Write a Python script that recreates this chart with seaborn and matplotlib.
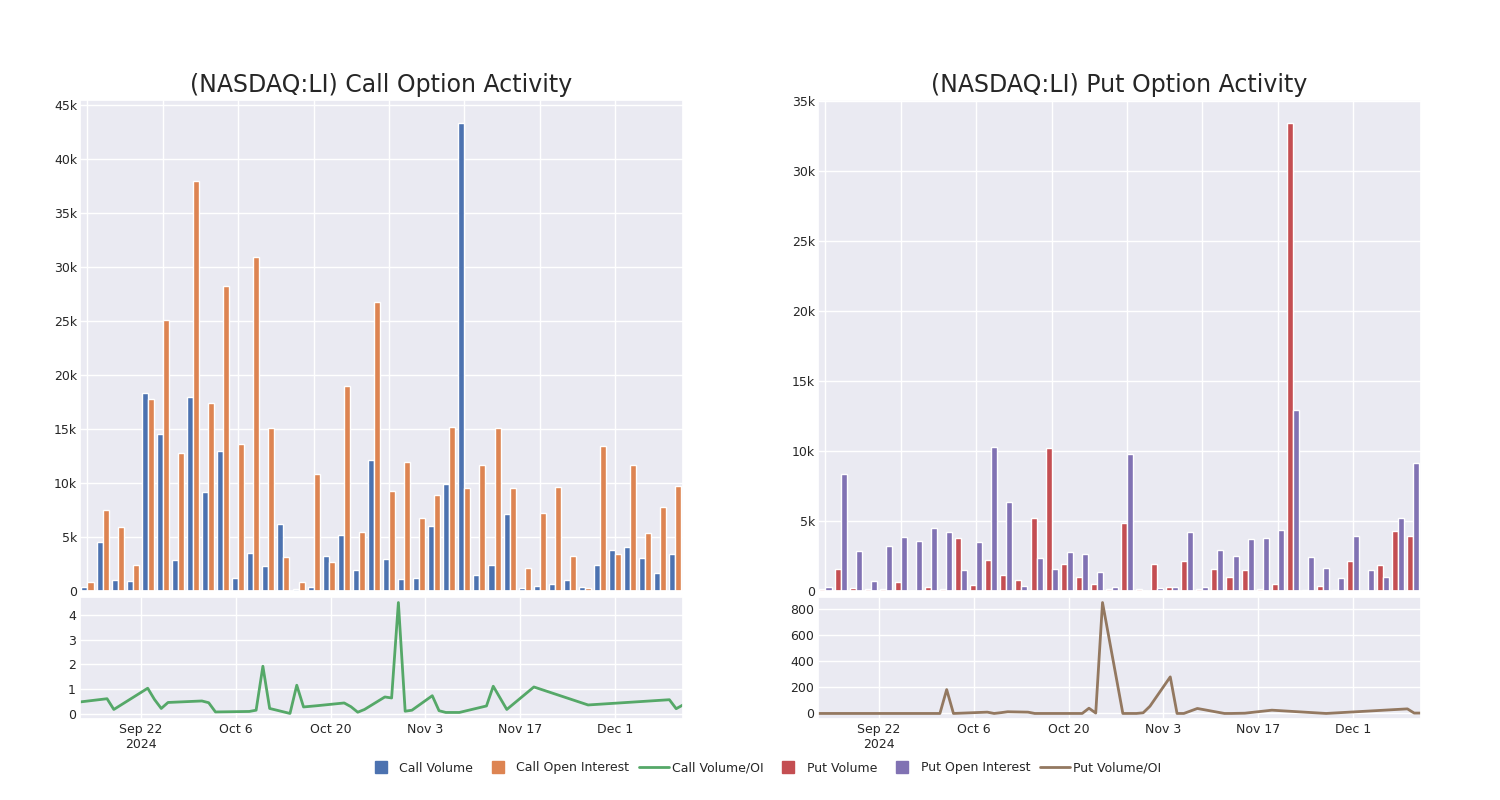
import matplotlib.pyplot as plt
import matplotlib.ticker as mticker
from matplotlib.lines import Line2D
import pandas as pd
import seaborn as sns

dates = pd.to_datetime([
    "2024-09-13", "2024-09-17", "2024-09-18", "2024-09-19", "2024-09-23",
    "2024-09-24", "2024-09-25", "2024-09-26", "2024-10-01", "2024-10-02",
    "2024-10-03", "2024-10-08", "2024-10-09", "2024-10-10", "2024-10-11",
    "2024-10-14", "2024-10-15", "2024-10-16", "2024-10-18", "2024-10-22",
    "2024-10-23", "2024-10-24", "2024-10-25", "2024-10-28", "2024-10-29",
    "2024-10-30", "2024-10-31", "2024-11-01", "2024-11-04", "2024-11-05",
    "2024-11-06", "2024-11-08", "2024-11-12", "2024-11-13", "2024-11-15",
    "2024-11-19", "2024-11-27", "2024-12-09", "2024-12-10", "2024-12-11",
])

call_volume = [370, 4550, 1050, 900, 18300, 14500, 2900, 18000, 9200, 13000,
               1200, 3560, 2320, 6200, 190, 370, 3200, 5140, 1950, 12100,
               2970, 1080, 1180, 6000, 9900, 43300, 1490, 2410, 7090, 280,
               500, 650, 1050, 370, 2450, 3780, 4120, 3070, 1640, 3470]
call_oi = [800, 7460, 5880, 2450, 17800, 25100, 12750, 38000, 17400, 28200,
           13650, 30900, 15050, 3160, 840, 10800, 2700, 18950, 5500, 26800,
           9260, 11950, 6800, 8850, 15200, 9570, 11640, 15050, 9570, 2170,
           7240, 9600, 3280, 310, 13400, 3470, 11640, 5390, 7800, 9690]
call_ratio = [0.50, 0.63, 0.20, 0.37, 1.05, 0.60, 0.24, 0.48, 0.54, 0.47,
              0.10, 0.12, 0.17, 1.93, 0.24, 0.04, 1.17, 0.30, 0.35, 0.46,
              0.31, 0.09, 0.20, 0.70, 0.66, 4.48, 0.13, 0.17, 0.75, 0.15,
              0.08, 0.08, 0.34, 1.13, 0.20, 1.10, 0.38, 0.59, 0.23, 0.38]

put_volume = [140, 1600, 240, 140, 140, 670, 0, 290, 140, 3800,
              400, 2240, 1150, 790, 5200, 10170, 1960, 1000, 500, 120,
              4870, 120, 1900, 260, 2170, 170, 1600, 980, 1530, 170,
              530, 33370, 70, 330, 100, 2120, 0, 1860, 4270, 3910]
put_oi = [290, 8380, 2890, 720, 3200, 3870, 3600, 4510, 4220, 1530,
          3480, 10290, 6350, 360, 2390, 1550, 2770, 2650, 1360, 290,
          9760, 0, 210, 260, 4180, 260, 2960, 2500, 3720, 3750,
          4320, 12940, 2460, 1620, 950, 3910, 1500, 1000, 5230, 9120]
put_ratio = [0, 0, 0, 0, 0, 0, 0, 0, 0, 182,
             0, 10, 0, 6, 13, 10, 0, 0, 0, 0,
             40, 3, 846, 0, 0, 0, 5, 55, 279, 0,
             0, 38, 0, 0, 2, 25, 0, 35, 3, 3]

tick_dates = pd.to_datetime(["2024-09-22", "2024-10-06", "2024-10-20",
                             "2024-11-03", "2024-11-17", "2024-12-01"])
tick_labels = ["Sep 22\n2024", "Oct 6", "Oct 20", "Nov 3", "Nov 17", "Dec 1"]

sns.set_theme(style="darkgrid")
pal = sns.color_palette("deep")


def k_fmt(v, _):
    return "0" if v == 0 else f"{v / 1000:g}k"


def draw_panel(left, title, vol, oi, ratio, names, colors, line_color, ratio_step):
    ax_bar = fig.add_axes([left, 0.26125, 0.402, 0.61375])
    ax_line = fig.add_axes([left, 0.10125, 0.402, 0.1525])

    labels = [d.strftime("%Y-%m-%d") for d in dates]
    df = pd.DataFrame({
        "date": labels * 2,
        "value": list(vol) + list(oi),
        "kind": [names[0]] * len(vol) + [names[1]] * len(oi),
    })
    sns.barplot(data=df, x="date", y="value", hue="kind", order=labels,
                palette=colors, saturation=1, ax=ax_bar, legend=False)
    ax_bar.set_xticks(range(0, len(labels), 5))
    ax_bar.set_xticklabels([])
    ax_bar.xaxis.grid(True)
    ax_bar.set_xlabel("")
    ax_bar.set_ylabel("")
    ax_bar.yaxis.set_major_locator(mticker.MultipleLocator(5000))
    ax_bar.yaxis.set_major_formatter(mticker.FuncFormatter(k_fmt))
    ax_bar.tick_params(labelsize=9, length=0, pad=2)
    ax_bar.set_title(title, fontsize=17, color="#262626")

    sns.lineplot(x=dates, y=ratio, ax=ax_line, color=line_color, linewidth=2)
    ax_line.set_xlim(dates[0], dates[-1])
    ax_line.set_xticks(tick_dates)
    ax_line.set_xticklabels(tick_labels)
    ax_line.yaxis.set_major_locator(mticker.MultipleLocator(ratio_step))
    ax_line.set_xlabel("")
    ax_line.set_ylabel("")
    ax_line.tick_params(labelsize=9, length=0, pad=3)
    return ax_bar, ax_line


fig = plt.figure(figsize=(15, 8), dpi=100)

draw_panel(0.0533, "(NASDAQ:LI) Call Option Activity", call_volume, call_oi,
           call_ratio, ["Call Volume", "Call Open Interest"], [pal[0], pal[1]], pal[2], 1)
draw_panel(0.5453, "(NASDAQ:LI) Put Option Activity", put_volume, put_oi,
           put_ratio, ["Put Volume", "Put Open Interest"], [pal[3], pal[4]], pal[5], 200)

sq = dict(marker="s", linestyle="none", markersize=8)
handles = [
    Line2D([], [], color=pal[0], **sq),
    Line2D([], [], color=pal[1], **sq),
    Line2D([], [], color=pal[2], linewidth=2),
    Line2D([], [], color=pal[3], **sq),
    Line2D([], [], color=pal[4], **sq),
    Line2D([], [], color=pal[5], linewidth=2),
]
names = ["Call Volume", "Call Open Interest", "Call Volume/OI",
         "Put Volume", "Put Open Interest", "Put Volume/OI"]
fig.legend(handles, names, loc="center", bbox_to_anchor=(0.509, 0.04), ncol=6,
           frameon=False, fontsize=9, handlelength=2.4, handletextpad=0.3,
           columnspacing=0.75)

fig.savefig("out.png", dpi=100)
